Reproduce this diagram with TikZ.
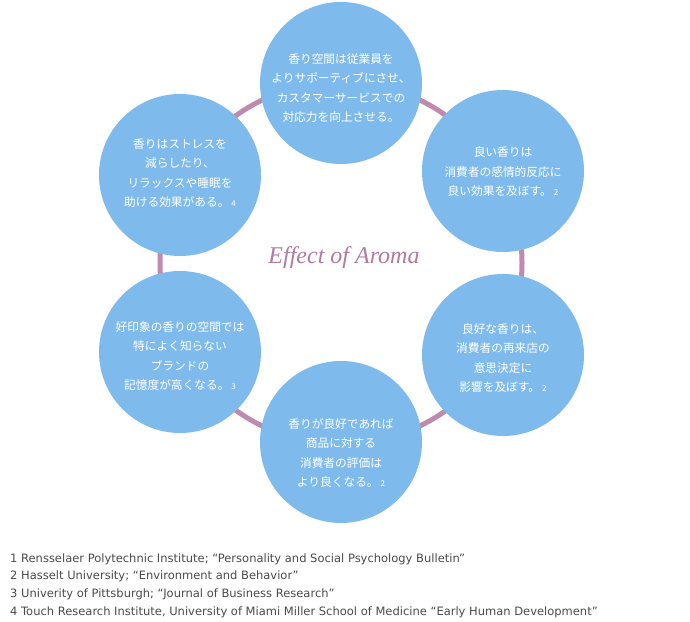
\documentclass[tikz,border=0pt]{standalone}
\usepackage{fontspec}
\newfontfamily\jp{Noto Sans CJK JP}
\newfontfamily\serifit{Liberation Serif}
\newfontfamily\notesf{DejaVu Sans}
\definecolor{bubble}{RGB}{126,187,236}
\definecolor{mauve}{RGB}{190,138,175}
\definecolor{titlec}{RGB}{178,122,160}
\definecolor{notec}{RGB}{75,75,75}
\tikzset{
  bubble/.style={circle,fill=bubble,draw=none,minimum size=162pt,inner sep=0pt},
  btext/.style={text=white,align=center,inner sep=0pt,font=\jp\fontsize{11.7}{19.5}\selectfont},
  ring/.style={draw=mauve,line width=5pt},
  note/.style={anchor=base west,inner sep=0pt,text=notec,font=\notesf\fontsize{11.5}{14}\selectfont}
}
\newcommand{\refn}[1]{\,{\fontsize{8}{8}\selectfont #1}}
\begin{document}
\begin{tikzpicture}[x=1pt,y=-1pt]
\useasboundingbox[fill=white] (0,0) rectangle (690,621);
\coordinate (ringc) at (341,263);
\draw[ring] (ringc) circle[radius=181];
\node[bubble] (top) at (341,83) {};
\node[bubble] (ur) at (503,171) {};
\node[bubble] (lr) at (503,355) {};
\node[bubble] (bot) at (341,442) {};
\node[bubble] (ll) at (180,352) {};
\node[bubble] (ul) at (180,175) {};
\node[btext] (ttop) at (341,88) {香り空間は従業員を\\よりサポーティブにさせ、\\カスタマーサービスでの\\対応力を向上させる。};
\node[btext] (tur) at (503,172) {良い香りは\\消費者の感情的反応に\\良い効果を及ぼす。\refn{2}};
\node[btext] (tlr) at (503,358) {良好な香りは、\\消費者の再来店の\\意思決定に\\影響を及ぼす。\refn{2}};
\node[btext] (tbot) at (341,453) {香りが良好であれば\\商品に対する\\消費者の評価は\\より良くなる。\refn{2}};
\node[btext] (tll) at (180,356) {好印象の香りの空間では\\特によく知らない\\ブランドの\\記憶度が高くなる。\refn{3}};
\node[btext] (tul) at (180,173) {香りはストレスを\\減らしたり、\\リラックスや睡眠を\\助ける効果がある。\refn{4}};
\node[text=titlec,inner sep=0pt,anchor=base,font=\serifit\itshape\fontsize{24}{24}\selectfont] (title) at (344,263) {Effect of Aroma};
\node[note] (n1) at (10,562) {1 Rensselaer Polytechnic Institute; “Personality and Social Psychology Bulletin”};
\node[note] (n2) at (10,579.7) {2 Hasselt University; “Environment and Behavior”};
\node[note] (n3) at (10,597.3) {3 Univerity of Pittsburgh; “Journal of Business Research”};
\node[note] (n4) at (10,615) {4 Touch Research Institute, University of Miami Miller School of Medicine “Early Human Development”};
\end{tikzpicture}
\end{document}
